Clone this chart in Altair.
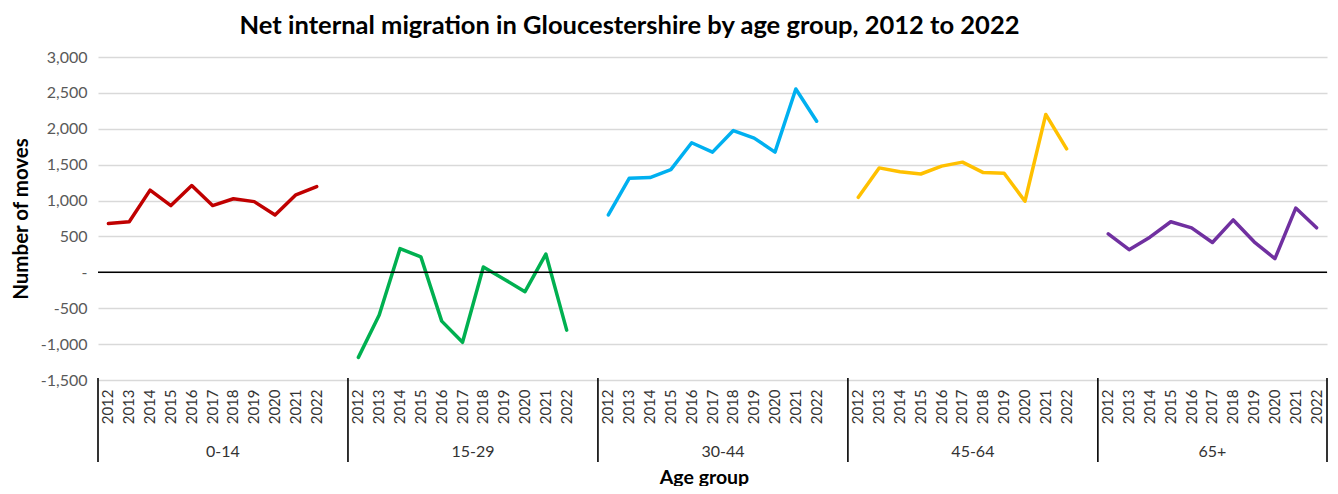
import altair as alt
import pandas as pd

groups = ["0-14", "15-29", "30-44", "45-64", "65+"]
years = [2012, 2013, 2014, 2015, 2016, 2017, 2018, 2019, 2020, 2021, 2022]
colors = ["#C00000", "#00B050", "#00B0F0", "#FFC000", "#7030A0"]

v_0_14 = [680, 705, 1145, 930, 1210, 930, 1025, 985, 800, 1080, 1195]
v_15_29 = [-1185, -595, 330, 215, -680, -975, 75, -95, -270, 255, -805]
v_30_44 = [800, 1310, 1320, 1430, 1805, 1675, 1975, 1870, 1675, 2555, 2105]
v_45_64 = [1045, 1455, 1400, 1370, 1480, 1535, 1390, 1380, 990, 2200, 1720]
v_65p = [535, 315, 490, 705, 620, 415, 730, 425, 190, 895, 620]
series = [v_0_14, v_15_29, v_30_44, v_45_64, v_65p]

y_ticks = [-1500, -1000, -500, 0, 500, 1000, 1500, 2000, 2500, 3000]

# category keys: 11 years per group plus one empty slot after each group but the last
keys = []
for i, g in enumerate(groups):
    for y in years:
        keys.append(f"{g}|{y}")
    if i < len(groups) - 1:
        keys.append(f"{g}|")

rows = []
for g, vals in zip(groups, series):
    for y, v in zip(years, vals):
        rows.append({"key": f"{g}|{y}", "group": g, "value": v})
df = pd.DataFrame(rows)

sep_df = pd.DataFrame({"key": [f"{g}|{years[0]}" for g in groups]})
end_df = pd.DataFrame({"key": [f"{groups[-1]}|{years[-1]}"]})
lab_df = pd.DataFrame({"key": [f"{g}|2018" for g in groups[:-1]], "label": groups[:-1]})
lab_last_df = pd.DataFrame({"key": [f"{groups[-1]}|2017"], "label": [groups[-1]]})
zero_df = pd.DataFrame({"value": [0]})

W, H = 1229, 323
FONT = "Lato"

xscale = alt.Scale(domain=keys, type="band", paddingInner=0, paddingOuter=0)
yscale = alt.Scale(domain=[-1500, 3000], nice=False, zero=False)

x_axis = alt.Axis(
    title="Age group", labelExpr="split(datum.value, '|')[1]",
    labelAngle=-90, labelAlign="right", labelBaseline="middle",
    labelPadding=9, labelFontSize=15, labelFont=FONT, labelColor="#333333",
    labelOverlap=False, ticks=False, domain=False, grid=False,
    titleFont=FONT, titleFontSize=19.5, titleFontWeight="bold", titleColor="#000000",
    titleX=606, titleY=97, titleBaseline="middle", titleAlign="center",
)
y_axis = alt.Axis(
    title="Number of moves", values=y_ticks,
    labelExpr="datum.value == 0 ? '-' : (datum.value < 0 ? '-' : '') + format(abs(datum.value), ',')",
    labelFont=FONT, labelFontSize=16, labelColor="#595959", labelPadding=11,
    ticks=False, domain=False, grid=True, gridColor="#d9d9d9", gridWidth=1.3,
    titleFont=FONT, titleFontSize=20.5, titleFontWeight="bold", titleColor="#000000",
    titleX=-77, titleBaseline="middle",
)

def xenc(band):
    return alt.X("key:N", scale=xscale, bandPosition=band, sort=keys, axis=x_axis)

yenc = alt.Y("value:Q", scale=yscale, axis=y_axis)

lines = alt.Chart(df).mark_line(strokeWidth=3.5, strokeCap="round", strokeJoin="round").encode(
    x=xenc(0.5),
    y=yenc,
    color=alt.Color("group:N", scale=alt.Scale(domain=groups, range=colors), legend=None),
    detail="group:N",
)

zero = alt.Chart(zero_df).mark_rule(color="#000000", strokeWidth=1.5).encode(y=yenc)

seps = alt.Chart(sep_df).mark_rule(color="#000000", strokeWidth=1.6).encode(
    x=xenc(0), y=alt.value(H - 2), y2=alt.value(H + 82),
)
ends = alt.Chart(end_df).mark_rule(color="#000000", strokeWidth=1.6).encode(
    x=xenc(1), y=alt.value(H - 2), y2=alt.value(H + 82),
)

glabels = alt.Chart(lab_df).mark_text(font=FONT, fontSize=16, color="#333333", baseline="middle").encode(
    x=xenc(0), y=alt.value(H + 72), text="label:N",
)
glabel_last = alt.Chart(lab_last_df).mark_text(font=FONT, fontSize=16, color="#333333", baseline="middle").encode(
    x=xenc(0.5), y=alt.value(H + 72), text="label:N",
)

chart = alt.layer(lines, zero, seps, ends, glabels, glabel_last).properties(
    width=W, height=H,
    autosize=alt.AutoSizeParams(type="none"),
    padding={"left": 90, "top": 49, "right": 3, "bottom": 106},
    background="#ffffff",
    title=alt.TitleParams(
        "Net internal migration in Gloucestershire by age group, 2012 to 2022",
        font=FONT, fontSize=25.5, fontWeight="bold", color="#000000",
        anchor="middle", dx=-83, offset=10,
    ),
).configure_view(stroke=None)

chart.save("out.html", embed_options={"renderer": "svg", "actions": False})
